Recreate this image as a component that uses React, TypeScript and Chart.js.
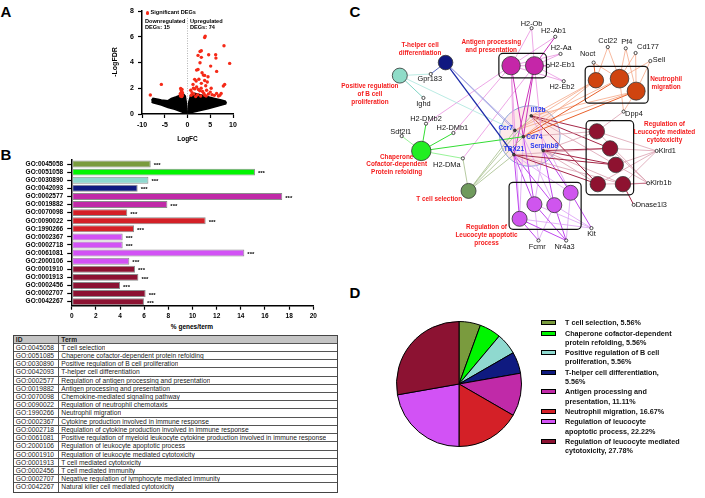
import React, { useEffect, useRef } from 'react';
import { Chart, registerables } from 'chart.js';

Chart.register(...registerables);

const FONT = '"Liberation Sans", Arial, Helvetica, sans-serif';

/* ================= Panel A : volcano plot ================= */
// significant DEGs  [logFC, -logFDR]
const sigUp: [number, number][] = [
  [3.9, 6.05], [3.77, 5.94], [8.02, 5.3], [3.04, 4.91], [2.75, 4.86], [2.31, 4.55], [4.65, 4.6], [6.19, 4.6],
  [6.25, 4.34], [3.04, 4.4], [9.27, 3.93], [2.75, 3.98], [5.09, 3.72], [2.0, 3.41], [2.31, 3.46], [6.41, 3.31],
  [3.48, 3.02], [3.77, 3.0], [4.51, 2.89], [1.57, 2.69], [1.9, 2.56], [3.77, 2.6], [4.35, 2.48], [3.04, 2.38],
  [8.17, 2.3], [7.88, 2.17], [1.21, 2.3], [1.3, 2.0], [1.6, 1.95], [2.0, 2.1], [2.4, 1.9], [2.7, 1.8],
  [3.0, 2.0], [3.3, 1.75], [3.6, 1.6], [4.2, 1.85], [4.6, 1.55], [5.0, 1.7], [5.4, 1.5], [5.9, 1.45],
  [6.4, 1.6], [7.1, 1.45], [7.4, 1.6], [1.0, 1.65], [1.4, 1.55], [0.8, 1.45], [2.2, 1.5], [2.9, 1.4],
  [4.1, 1.4], [0.7, 1.85], [5.2, 2.0], [2.5, 2.7], [3.2, 3.2], [4.0, 2.2], [1.8, 1.35], [6.8, 1.4], [3.8, 1.45],
];
const sigDown: [number, number][] = [
  [-8.17, 1.47], [-5.75, 2.3], [-1.5, 1.99], [-1.4, 1.86], [-1.3, 1.73], [-1.2, 1.9], [-1.5, 1.6], [-1.2, 1.55],
  [-1.35, 1.45], [-1.55, 1.4], [-1.1, 1.65], [-1.45, 1.5], [-1.25, 1.35], [-1.6, 1.55], [-1.15, 1.45],
];
// outline of the dense cloud of non-significant genes
const nonSigLeftOutline: [number, number][] = [
  [-7.9, 1.05], [-7.58, 1.21], [-6.48, 1.15], [-5.75, 1.08], [-4.29, 1.03], [-3.55, 1.21], [-2.45, 1.34],
  [-1.72, 1.45], [-0.99, 1.6], [-0.48, 1.4], [-0.26, 0.9], [-0.08, 0.1], [-0.1, 0.0], [-1.36, 0.18],
  [-2.82, 0.36], [-4.29, 0.51], [-5.75, 0.7], [-7.58, 0.87], [-7.9, 0.95],
];
const nonSigRightOutline: [number, number][] = [
  [0.08, 0.1], [0.26, 0.9], [0.7, 1.47], [1.58, 1.6], [3.04, 1.47], [4.51, 1.34], [5.97, 1.21], [7.44, 1.08],
  [8.32, 1.0], [8.5, 0.88], [8.4, 0.78], [6.7, 0.62], [4.51, 0.41], [2.31, 0.23], [0.7, 0.1], [0.1, 0.0],
];
const downCount = 15;
const upCount = 74;

/* ================= Panel B : GO bar chart ================= */
const goIds = ['GO:0045058', 'GO:0051058', 'GO:0030890', 'GO:0042093', 'GO:0002577', 'GO:0019882', 'GO:0070098',
  'GO:0090022', 'GO:1990266', 'GO:0002367', 'GO:0002718', 'GO:0061081', 'GO:2000106', 'GO:0001910', 'GO:0001913',
  'GO:0002456', 'GO:0002707', 'GO:0042267'];
const pctGenes = [6.54, 15.17, 6.35, 5.46, 17.43, 7.92, 4.6, 11.09, 5.16, 4.22, 4.22, 14.29, 4.77, 5.24, 5.52, 4.0, 6.12, 5.98];
const goGroup = [0, 1, 2, 3, 4, 4, 5, 5, 5, 6, 6, 6, 6, 7, 7, 7, 7, 7];
const goSignif = goIds.map(() => '***');

const tableIds = ['GO:0045058', 'GO:0051085', 'GO:0030890', 'GO:0042093', 'GO:0002577', 'GO:0019882', 'GO:0070098',
  'GO:0090022', 'GO:1990266', 'GO:0002367', 'GO:0002718', 'GO:0061081', 'GO:2000106', 'GO:0001910', 'GO:0001913',
  'GO:0002456', 'GO:0002707', 'GO:0042267'];
const tableTerms = ['T cell selection', 'Chaperone cofactor-dependent protein refolding',
  'Positive regulation of B cell proliferation', 'T-helper cell differentiation',
  'Regulation of antigen processing and presentation', 'Antigen processing and presentation',
  'Chemokine-mediated signaling pathway', 'Regulation of neutrophil chemotaxis', 'Neutrophil migration',
  'Cytokine production involved in immune response', 'Regulation of cytokine production involved in immune response',
  'Positive regulation of myeloid leukocyte cytokine production involved in immune response',
  'Regulation of leukocyte apoptotic process', 'Regulation of leukocyte mediated cytotoxicity',
  'T cell mediated cytotoxicity', 'T cell mediated immunity', 'Negative regulation of lymphocyte mediated immunity',
  'Natural killer cell mediated cytotoxicity'];

/* ================= Panel D : pie ================= */
const termShares = [5.56, 5.56, 5.56, 5.56, 11.11, 16.67, 22.22, 27.78];
const termLegend = [
  ['T cell selection, 5.56%'],
  ['Chaperone cofactor-dependent', 'protein refolding, 5.56%'],
  ['Positive regulation of B cell', 'proliferation, 5.56%'],
  ['T-helper cell differentiation,', '5.56%'],
  ['Antigen processing and', 'presentation, 11.11%'],
  ['Neutrophil migration, 16.67%'],
  ['Regulation of leucocyte', 'apoptotic process, 22.22%'],
  ['Regulation of leucocyte mediated', 'cytotoxicity, 27.78%'],
];

/* ================= Panel C : network ================= */
// term index follows the pie order
const clusterNodeTerm = [3, 2, 1, 0, 4, 4, 5, 5, 5, 7, 7, 7, 7, 7, 6, 6, 6, 6];
const clusterNodeX = [121.7, 73.3, 96, 146, 191, 215.7, 280.7, 305.7, 323.3, 281.7, 295.7, 301.7, 282.7, 309.3, 200, 215.7, 236.7, 254];
const clusterNodeY = [56, 70, 151, 194, 59.3, 59.3, 75, 73.3, 86.7, 130, 148.3, 166, 186.7, 186.7, 224, 208.3, 209.3, 196];
const clusterNodeSize = [7.3, 7.5, 9.7, 7.5, 9.2, 9.0, 7.7, 9.3, 9.0, 7.7, 7.7, 7.7, 7.7, 7.7, 7.5, 7.5, 7.5, 7.5];

const hubGenes = ['Il12b', 'Ccr7', 'Cd74', 'TBX21', 'Serpinb9'];
const hubGeneX = [212.3, 195, 204, 194, 225];
const hubGeneY = [113.3, 129, 135.7, 155, 150.7];
const hubZone = [210.8, 135, 32]; // centre x, centre y, radius

const leafGenes = ['H2-Ob', 'H2-Ab1', 'H2-Aa', 'H2-Eb1', 'H2-Eb2', 'Gpr183', 'Ighd', 'H2-DMb2', 'H2-DMb1', 'Sdf2l1',
  'H2-DMa', 'Noct', 'Ccl22', 'Pf4', 'Cd177', 'Sell', 'Dpp4', 'Klrd1', 'Klrb1b', 'Dnase1l3', 'Kit', 'Fcmr', 'Nr4a3'];
const leafGeneX = [212.7, 237.7, 243.3, 230, 246.7, 106, 98.3, 101, 130, 75.3, 140, 278.3, 293.3, 312.3, 322.7, 338.3,
  310, 345, 336, 320.7, 276, 220, 249.3];
const leafGeneY = [19, 28.3, 46.7, 59.5, 76, 68.3, 94, 121.7, 131.7, 135, 159, 56, 39.3, 40.7, 45.7, 54.3, 108.7, 151,
  185.7, 209, 234, 247.3, 247.3];

// [cluster node, gene, strength]
const edges: [number, string, number][] = [
  [0, 'Gpr183', 1], [0, 'Ccr7', 0], [0, 'Cd74', 0], [0, 'TBX21', 2],
  [1, 'Gpr183', 0], [1, 'Ighd', 1], [1, 'Ccr7', 0],
  [2, 'Sdf2l1', 0], [2, 'H2-DMb2', 1], [2, 'H2-DMb1', 1], [2, 'H2-DMa', 0], [2, 'Cd74', 1],
  [3, 'H2-DMa', 0], [3, 'Ccr7', 0], [3, 'Cd74', 0], [3, 'TBX21', 0], [3, 'Il12b', 0],
  [4, 'H2-Ob', 0], [4, 'H2-Ab1', 0], [4, 'H2-Aa', 0], [4, 'H2-Eb1', 0], [4, 'H2-Eb2', 0], [4, 'H2-DMb2', 0],
  [4, 'H2-DMb1', 0], [4, 'Cd74', 1], [4, 'TBX21', 0], [4, 'Ccr7', 0],
  [5, 'H2-Ob', 0], [5, 'H2-Ab1', 1], [5, 'H2-Aa', 0], [5, 'H2-Eb1', 1], [5, 'H2-Eb2', 0], [5, 'H2-DMa', 0],
  [5, 'Cd74', 1], [5, 'TBX21', 1], [5, 'Serpinb9', 0],
  [6, 'Noct', 1], [6, 'Ccl22', 0], [6, 'Ccr7', 0], [6, 'Cd74', 0], [6, 'Il12b', 0],
  [7, 'Noct', 0], [7, 'Ccl22', 0], [7, 'Pf4', 0], [7, 'Cd177', 0], [7, 'Sell', 0], [7, 'Dpp4', 0], [7, 'Ccr7', 0], [7, 'Cd74', 1],
  [8, 'Pf4', 0], [8, 'Sell', 0], [8, 'Cd177', 0], [8, 'Dpp4', 0], [8, 'Cd74', 1], [8, 'Ccr7', 0], [8, 'Il12b', 0],
  [9, 'Klrd1', 0], [9, 'Klrb1b', 0], [9, 'Il12b', 1], [9, 'Cd74', 0], [9, 'Serpinb9', 0], [9, 'Dpp4', 0],
  [10, 'Klrd1', 0], [10, 'Klrb1b', 0], [10, 'Il12b', 1], [10, 'Serpinb9', 1], [10, 'TBX21', 0],
  [11, 'Klrd1', 0], [11, 'Klrb1b', 0], [11, 'Il12b', 0], [11, 'Serpinb9', 1], [11, 'TBX21', 1],
  [12, 'Klrd1', 0], [12, 'Klrb1b', 0], [12, 'Il12b', 1], [12, 'Serpinb9', 0], [12, 'TBX21', 1],
  [13, 'Klrd1', 0], [13, 'Klrb1b', 1], [13, 'Dnase1l3', 1], [13, 'Serpinb9', 0], [13, 'TBX21', 0],
  [14, 'Kit', 0], [14, 'Fcmr', 1], [14, 'Nr4a3', 1], [14, 'TBX21', 1], [14, 'Cd74', 0], [14, 'Ccr7', 0],
  [15, 'Kit', 0], [15, 'Fcmr', 0], [15, 'Nr4a3', 1], [15, 'TBX21', 1], [15, 'Cd74', 1], [15, 'Serpinb9', 0],
  [16, 'Kit', 0], [16, 'Fcmr', 0], [16, 'Nr4a3', 1], [16, 'TBX21', 1], [16, 'Serpinb9', 1], [16, 'Cd74', 0],
  [17, 'Kit', 1], [17, 'Nr4a3', 0], [17, 'TBX21', 0], [17, 'Serpinb9', 1], [17, 'Il12b', 0],
];

const clusterLabelLines = [
  ['T cell selection'],
  ['Chaperone', 'Cofactor-dependent', 'Protein refolding'],
  ['Positive regulation', 'of B cell', 'proliferation'],
  ['T-helper cell', 'differentiation'],
  ['Antigen processing', 'and presentation'],
  ['Neutrophil', 'migration'],
  ['Regulation of', 'Leucocyte apoptotic', 'process'],
  ['Regulation of', 'Leucocyte mediated', 'cytotoxicity'],
];
const clusterLabelX = [115, 70, 41.7, 94.7, 170, 355, 165, 353.3];
const clusterLabelY = [202.7, 157.3, 81.7, 37.7, 34.3, 74, 233.3, 122.3];

/* ================= styles ================= */
const termColors = ['#7a9b3e', '#00f500', '#8fd9cf', '#0f1a80', '#c02aa8', '#d42027', '#d252f5', '#8c1232'];
const netNodeColors = ['#6f9a5c', '#22ee22', '#8fdcc8', '#101880', '#c526a8', '#d04410', '#cf55ee', '#8e1230'];
const edgeColors = [
  ['#a5be8a', '#7f9e62', '#5f7e42'],
  ['#7ef07e', '#33dd33', '#11bb11'],
  ['#a8e6dc', '#7fd4c4', '#5fc4b4'],
  ['#9a9ae0', '#5a6ac0', '#1a28a8'],
  ['#e890e0', '#cc33bb', '#aa1199'],
  ['#f5a888', '#e8602a', '#c84010'],
  ['#dca0f5', '#c048ee', '#a020d0'],
  ['#dba0b0', '#a52848', '#801030'],
];
const leafLabelPlacement: Record<string, [number, number, CanvasTextAlign]> = {
  'H2-Ob': [0, -4.5, 'center'], 'H2-Ab1': [-1.7, -5.6, 'center'], 'H2-Aa': [0.7, -5.7, 'center'],
  'H2-Eb1': [2, -1, 'left'], 'H2-Eb2': [-1.7, 5.7, 'center'], 'Gpr183': [-1, 5, 'center'], 'Ighd': [0, 6, 'center'],
  'H2-DMb2': [0, -5, 'center'], 'H2-DMb1': [-1, -5, 'center'], 'Sdf2l1': [-1, -4.5, 'center'],
  'H2-DMa': [-16, 7, 'center'], 'Noct': [-6, -8.5, 'center'], 'Ccl22': [0, -6, 'center'], 'Pf4': [1, -6.5, 'center'],
  'Cd177': [1.5, -6, 'left'], 'Sell': [2.5, -1.5, 'left'], 'Dpp4': [1.5, 2, 'left'], 'Klrd1': [2, 0, 'left'],
  'Klrb1b': [2, 0, 'left'], 'Dnase1l3': [2, 0, 'left'], 'Kit': [0, 5.5, 'center'], 'Fcmr': [-1.3, 6, 'center'],
  'Nr4a3': [-1.6, 6, 'center'],
};
const hubLabelPlacement: Record<string, [number, number, CanvasTextAlign]> = {
  'Il12b': [-0.5, -5.6, 'left'], 'Ccr7': [-2, -2.3, 'right'], 'Cd74': [3, 1, 'left'],
  'TBX21': [0, -5, 'center'], 'Serpinb9': [1, -4.7, 'center'],
};

function axis(min: number, max: number, step: number, size: number, pad: number): any {
  return {
    type: 'linear', min, max,
    ticks: { stepSize: step, color: '#000', autoSkip: false, padding: pad, font: { size, weight: 'bold', family: FONT } },
    grid: { display: true, drawOnChartArea: false, drawTicks: true, tickLength: 4, tickColor: '#000', tickWidth: 1.2, color: '#000' },
    border: { display: true, color: '#000', width: 1.5 },
  };
}

const baseOpts: any = {
  responsive: false, animation: false, events: [],
  plugins: { legend: { display: false }, tooltip: { enabled: false } },
};

function volcanoConfig(): any {
  const pts = (a: [number, number][]) => a.map(([x, y]) => ({ x, y }));
  return {
    type: 'scatter',
    data: {
      datasets: [
        { data: pts([...sigUp, ...sigDown]), pointRadius: 1.7, pointBackgroundColor: '#f52a18', pointBorderWidth: 0 },
        { data: pts(nonSigLeftOutline), showLine: true, fill: 'shape', backgroundColor: '#000', borderColor: '#000', borderWidth: 1.5, pointRadius: 0 },
        { data: pts(nonSigRightOutline), showLine: true, fill: 'shape', backgroundColor: '#000', borderColor: '#000', borderWidth: 1.5, pointRadius: 0 },
        { data: [{ x: 0, y: 0 }, { x: 0, y: 7.55 }], showLine: true, borderColor: '#a0a0a0', borderWidth: 0.8, borderDash: [1, 1.5], pointRadius: 0 },
      ],
    },
    options: {
      ...baseOpts,
      layout: { padding: { top: 11, right: 12, left: 0, bottom: 0 } },
      scales: {
        x: { ...axis(-10, 10, 5, 7, 3), afterFit: (s: any) => { s.height = 36; } },
        y: { ...axis(0, 8, 2, 7, 4), afterFit: (s: any) => { s.width = 52; } },
      },
    },
  };
}

const starsPlugin = {
  id: 'stars',
  afterDatasetsDraw(chart: any) {
    const meta = chart.getDatasetMeta(0);
    const ctx = chart.ctx;
    ctx.save();
    ctx.font = `bold 6px ${FONT}`;
    ctx.fillStyle = '#000';
    ctx.textBaseline = 'middle';
    ctx.textAlign = 'left';
    meta.data.forEach((bar: any, i: number) => ctx.fillText(goSignif[i], bar.x + 3, bar.y + 1.5));
    ctx.restore();
  },
};

function barConfig(): any {
  const y = axis(0, 1, 1, 6.5, 4);
  return {
    type: 'bar',
    data: {
      labels: goIds,
      datasets: [{
        data: pctGenes, backgroundColor: goGroup.map((g) => termColors[g]), borderColor: '#8c8c8c',
        borderWidth: 1, borderSkipped: false, barPercentage: 0.86, categoryPercentage: 1,
      }],
    },
    options: {
      ...baseOpts,
      indexAxis: 'y',
      layout: { padding: { top: 10, right: 16.7, left: 0, bottom: 0 } },
      scales: {
        x: { ...axis(0, 20, 2, 6.5, 3), afterFit: (s: any) => { s.height = 16.3; } },
        y: {
          type: 'category',
          ticks: { ...y.ticks, stepSize: undefined },
          grid: { ...y.grid, offset: false, tickLength: 4.5 },
          border: y.border,
          afterFit: (s: any) => { s.width = 71.7; },
        },
      },
    },
    plugins: [starsPlugin],
  };
}

function pieConfig(): any {
  return {
    type: 'pie',
    data: {
      labels: termLegend.map((l) => l.join(' ')),
      datasets: [{ data: termShares, backgroundColor: termColors, borderColor: '#000', borderWidth: 1, hoverOffset: 0, offset: 0 }],
    },
    options: { ...baseOpts, layout: { padding: 0 } },
  };
}

const netPlugin = {
  id: 'netDecor',
  beforeDatasetsDraw(chart: any) {
    const { ctx, scales: { x, y } } = chart;
    const cx = x.getPixelForValue(hubZone[0]);
    const cy = y.getPixelForValue(hubZone[1]);
    const r = x.getPixelForValue(hubZone[0] + hubZone[2]) - cx;
    ctx.save();
    ctx.beginPath();
    ctx.arc(cx, cy, r, 0, Math.PI * 2);
    ctx.fillStyle = 'rgba(252,215,215,0.55)';
    ctx.fill();
    ctx.strokeStyle = '#8fa6d8';
    ctx.lineWidth = 1;
    ctx.stroke();
    ctx.restore();
  },
  beforeDatasetDraw(chart: any, args: any) {
    if (args.index !== 0) return;
    const { ctx, scales: { x, y } } = chart;
    ctx.save();
    ctx.strokeStyle = '#111';
    ctx.lineWidth = 1.2;
    for (let t = 0; t < termColors.length; t++) {
      const idx = clusterNodeTerm.map((v, i) => (v === t ? i : -1)).filter((i) => i >= 0);
      if (idx.length < 2) continue;
      let x0 = Infinity, x1 = -Infinity, y0 = Infinity, y1 = -Infinity;
      idx.forEach((i) => {
        const px = x.getPixelForValue(clusterNodeX[i]);
        const py = y.getPixelForValue(clusterNodeY[i]);
        const r = clusterNodeSize[i];
        x0 = Math.min(x0, px - r); x1 = Math.max(x1, px + r);
        y0 = Math.min(y0, py - r); y1 = Math.max(y1, py + r);
      });
      const m = 3;
      ctx.beginPath();
      ctx.roundRect(x0 - m, y0 - m, x1 - x0 + 2 * m, y1 - y0 + 2 * m, 4);
      ctx.stroke();
    }
    ctx.restore();
  },
  afterDatasetsDraw(chart: any) {
    const { ctx, scales: { x, y } } = chart;
    ctx.save();
    ctx.textBaseline = 'middle';
    ctx.font = `7.4px ${FONT}`;
    ctx.fillStyle = '#111';
    leafGenes.forEach((g, i) => {
      const [dx, dy, al] = leafLabelPlacement[g];
      ctx.textAlign = al;
      ctx.fillText(g, x.getPixelForValue(leafGeneX[i]) + dx, y.getPixelForValue(leafGeneY[i]) + dy);
    });
    ctx.font = `bold 6.5px ${FONT}`;
    ctx.fillStyle = '#2638f0';
    hubGenes.forEach((g, i) => {
      const [dx, dy, al] = hubLabelPlacement[g];
      ctx.textAlign = al;
      ctx.fillText(g, x.getPixelForValue(hubGeneX[i]) + dx, y.getPixelForValue(hubGeneY[i]) + dy);
    });
    ctx.font = `bold 6.4px ${FONT}`;
    ctx.fillStyle = '#f41c1c';
    ctx.textAlign = 'center';
    clusterLabelLines.forEach((lines, t) => {
      lines.forEach((ln, k) => {
        ctx.fillText(ln, x.getPixelForValue(clusterLabelX[t]), y.getPixelForValue(clusterLabelY[t]) + k * 7.8);
      });
    });
    ctx.restore();
  },
};

function netConfig(): any {
  const genePos: Record<string, { x: number; y: number }> = {};
  hubGenes.forEach((g, i) => { genePos[g] = { x: hubGeneX[i], y: hubGeneY[i] }; });
  leafGenes.forEach((g, i) => { genePos[g] = { x: leafGeneX[i], y: leafGeneY[i] }; });
  const edgeSets = edges.map(([c, g, s]) => ({
    data: [{ x: clusterNodeX[c], y: clusterNodeY[c] }, genePos[g]],
    showLine: true, pointRadius: 0, fill: false,
    borderColor: edgeColors[clusterNodeTerm[c]][s],
    borderWidth: s === 0 ? 0.8 : s === 1 ? 1.0 : 1.3,
  }));
  return {
    type: 'scatter',
    data: {
      datasets: [
        {
          data: clusterNodeX.map((v, i) => ({ x: v, y: clusterNodeY[i] })),
          pointRadius: clusterNodeSize, pointBackgroundColor: clusterNodeTerm.map((t) => netNodeColors[t]),
          pointBorderColor: '#333', pointBorderWidth: 0.8,
        },
        {
          data: leafGeneX.map((v, i) => ({ x: v, y: leafGeneY[i] })),
          pointRadius: 1.6, pointBackgroundColor: '#fff', pointBorderColor: '#222', pointBorderWidth: 0.8,
        },
        {
          data: hubGeneX.map((v, i) => ({ x: v, y: hubGeneY[i] })),
          pointRadius: 1.4, pointBackgroundColor: '#444', pointBorderColor: '#111', pointBorderWidth: 0.6,
        },
        ...edgeSets,
      ],
    },
    options: {
      ...baseOpts,
      layout: { padding: 0 },
      scales: {
        x: { type: 'linear', min: 0, max: 385, display: false },
        y: { type: 'linear', min: 0, max: 300, reverse: true, display: false },
      },
    },
    plugins: [netPlugin],
  };
}

function Txt(props: { x: number; y: number; size: number; bold?: boolean; color?: string; align?: 'left' | 'center' | 'right'; rotate?: boolean; children: any }) {
  const { x, y, size, bold, color, align = 'left', rotate } = props;
  const tx = align === 'center' ? '-50%' : align === 'right' ? '-100%' : '0';
  return (
    <div style={{
      position: 'absolute', left: x, top: y, fontSize: size, lineHeight: 1, fontWeight: bold ? 'bold' : 'normal',
      color: color || '#000', whiteSpace: 'nowrap', fontFamily: FONT,
      transform: `translate(${tx}, -50%)${rotate ? ' rotate(-90deg)' : ''}`, transformOrigin: rotate ? '50% 50%' : undefined,
    }}>{props.children}</div>
  );
}

export default function App() {
  const volRef = useRef<HTMLCanvasElement>(null);
  const barRef = useRef<HTMLCanvasElement>(null);
  const netRef = useRef<HTMLCanvasElement>(null);
  const pieRef = useRef<HTMLCanvasElement>(null);

  useEffect(() => {
    Chart.defaults.font.family = FONT;
    const charts: Chart[] = [
      new Chart(volRef.current as HTMLCanvasElement, volcanoConfig()),
      new Chart(barRef.current as HTMLCanvasElement, barConfig()),
      new Chart(netRef.current as HTMLCanvasElement, netConfig()),
      new Chart(pieRef.current as HTMLCanvasElement, pieConfig()),
    ];
    return () => charts.forEach((c) => c.destroy());
  }, []);

  const rowH = 8.23;
  let legendY = 322.7;
  const legendItems = termLegend.map((lines, i) => {
    const top = legendY;
    legendY += lines.length * 9.2 + 1.2;
    return (
      <React.Fragment key={i}>
        <div style={{ position: 'absolute', left: 541, top: top - 2.6, width: 15, height: 5.2, boxSizing: 'border-box', border: '1.2px solid #000', background: termColors[i] }} />
        <div style={{ position: 'absolute', left: 565, top: top - 4.6, lineHeight: '9.2px', fontSize: 7.2, fontWeight: 'bold', fontFamily: FONT, whiteSpace: 'nowrap', color: '#111' }}>
          {lines.map((l, k) => <div key={k}>{l}</div>)}
        </div>
      </React.Fragment>
    );
  });

  return (
    <div style={{ position: 'absolute', left: 0, top: 0, width: 705, height: 498, background: '#fff', overflow: 'hidden', fontFamily: FONT }}>
      {/* panel letters */}
      <Txt x={0.5} y={11} size={15} bold>A</Txt>
      <Txt x={0.5} y={154} size={15} bold>B</Txt>
      <Txt x={349.5} y={11} size={15} bold>C</Txt>
      <Txt x={349.5} y={291.5} size={15} bold>D</Txt>

      {/* A */}
      <canvas ref={volRef} width={155} height={150} style={{ position: 'absolute', left: 90, top: 0 }} />
      <div style={{ position: 'absolute', left: 145.5, top: 11, width: 3.6, height: 3.6, borderRadius: '50%', background: '#f52a18' }} />
      <Txt x={150.5} y={12.7} size={5.6} bold>Significant DEGs</Txt>
      <Txt x={145} y={22.3} size={5.6} bold>Downregulated</Txt>
      <Txt x={145} y={27.7} size={5.6} bold>{`DEGs: ${downCount}`}</Txt>
      <Txt x={190} y={22.3} size={5.6} bold>Upregulated</Txt>
      <Txt x={190} y={27.7} size={5.6} bold>{`DEGs: ${upCount}`}</Txt>
      <Txt x={113.5} y={62} size={7} bold align="center" rotate>-LogFDR</Txt>
      <Txt x={187.5} y={139} size={6.5} bold align="center">LogFC</Txt>

      {/* B */}
      <canvas ref={barRef} width={330} height={172} style={{ position: 'absolute', left: 0, top: 150 }} />
      <Txt x={192} y={326.7} size={6.5} bold align="center">% genes/term</Txt>
      <div style={{ position: 'absolute', left: 13.3, top: 334.5, width: 324.4, boxSizing: 'border-box', border: '1px solid #444', fontFamily: FONT, fontSize: 6.7, color: '#222' }}>
        {[['ID', 'Term'], ...tableIds.map((id, i) => [id, tableTerms[i]])].map((row, r) => (
          <div key={r} style={{ display: 'flex', height: rowH, boxSizing: 'border-box', borderBottom: r === tableIds.length ? 'none' : '1px solid #555', background: r === 0 ? '#c4c4c4' : '#fff', fontWeight: r === 0 ? 'bold' : 'normal', lineHeight: `${rowH - 1}px` }}>
            <div style={{ width: 45, boxSizing: 'border-box', borderRight: '1px solid #555', paddingLeft: 1.5, whiteSpace: 'nowrap', overflow: 'hidden' }}>{row[0]}</div>
            <div style={{ paddingLeft: 2, whiteSpace: 'nowrap', overflow: 'hidden' }}>{row[1]}</div>
          </div>
        ))}
      </div>

      {/* C */}
      <canvas ref={netRef} width={385} height={300} style={{ position: 'absolute', left: 320, top: 0 }} />

      {/* D */}
      <canvas ref={pieRef} width={126} height={126} style={{ position: 'absolute', left: 396, top: 321 }} />
      {legendItems}
    </div>
  );
}
